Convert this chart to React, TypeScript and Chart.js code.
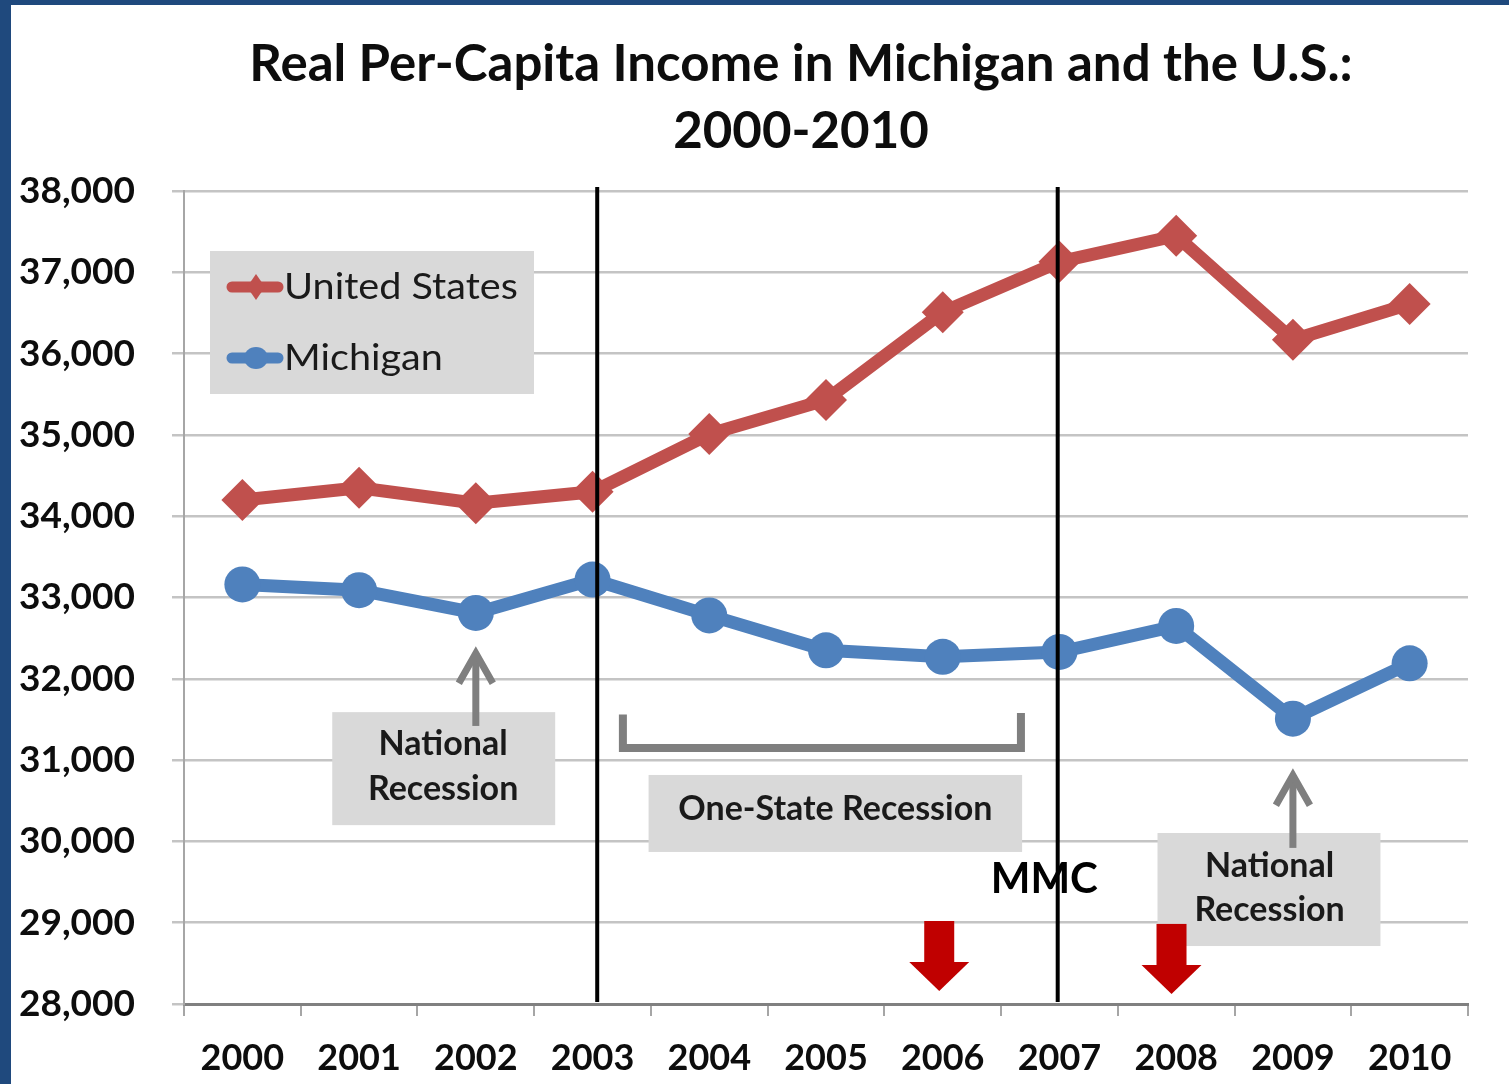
import React, { useEffect, useRef } from "react";
import { Chart, registerables } from "chart.js";

Chart.register(...registerables);

const years = ["2000", "2001", "2002", "2003", "2004", "2005", "2006", "2007", "2008", "2009", "2010"];
const unitedStates = [34200, 34350, 34160, 34300, 35010, 35430, 36510, 37130, 37450, 36170, 36610];
const michigan = [33160, 33090, 32810, 33220, 32780, 32350, 32270, 32330, 32650, 31510, 32190];
const yMin = 28000;
const yMax = 38000;
const yStep = 1000;
const titleLines = ["Real Per-Capita Income in Michigan and the U.S.:", "2000-2010"];
const seriesNames = ["United States", "Michigan"];

const US_COLOR = "#C0504D";
const MI_COLOR = "#4F81BD";
const FONT = "Lato, 'Open Sans', sans-serif";

const decorPlugin = {
  id: "decor",
  afterDatasetsDraw(chart: any) {
    const { ctx, chartArea, scales } = chart;
    const x = scales.x;
    const y = scales.y;
    const X = (v: number) => x.getPixelForValue(v);
    const Y = (v: number) => y.getPixelForValue(v);
    ctx.save();

    // vertical black lines
    ctx.strokeStyle = "#000";
    ctx.lineWidth = 4;
    [3.04, 6.985].forEach((v) => {
      ctx.beginPath();
      ctx.moveTo(X(v), Y(38050));
      ctx.lineTo(X(v), Y(28025));
      ctx.stroke();
    });

    const box = (x0: number, x1: number, y0: number, y1: number) => {
      ctx.fillStyle = "#D9D9D9";
      const l = X(x0), r = X(x1), t = Y(y0), b = Y(y1);
      ctx.fillRect(l, t, r - l, b - t);
    };
    const text = (s: string, xv: number, yv: number, font: string, color = "#1a1a1a") => {
      ctx.font = font;
      ctx.fillStyle = color;
      ctx.textAlign = "center";
      ctx.textBaseline = "middle";
      ctx.fillText(s, X(xv), Y(yv));
    };
    const upArrow = (xv: number, fromV: number, toV: number) => {
      const px = X(xv), yb = Y(fromV), yt = Y(toV);
      ctx.strokeStyle = "#7F7F7F";
      ctx.lineWidth = 7;
      ctx.lineCap = "butt";
      ctx.beginPath();
      ctx.moveTo(px, yb);
      ctx.lineTo(px, yt + 3);
      ctx.stroke();
      ctx.lineJoin = "miter";
      ctx.beginPath();
      ctx.moveTo(px - 17, yt + 33);
      ctx.lineTo(px, yt + 3);
      ctx.lineTo(px + 17, yt + 33);
      ctx.stroke();
    };
    const redArrow = (xv: number, topV: number) => {
      const px = X(xv), t = Y(topV);
      ctx.fillStyle = "#C00000";
      ctx.fillRect(px - 15, t, 30, 42);
      ctx.beginPath();
      ctx.moveTo(px - 30, t + 41);
      ctx.lineTo(px + 30, t + 41);
      ctx.lineTo(px, t + 70);
      ctx.closePath();
      ctx.fill();
    };
    const labelFont = `bold 34px ${FONT}`;

    // National recession 1
    box(0.77, 2.68, 31590, 30200);
    text("National", 1.72, 31200, labelFont);
    text("Recession", 1.72, 30650, labelFont);
    upArrow(2.0, 31420, 32350);

    // One-state recession bracket
    ctx.strokeStyle = "#7F7F7F";
    ctx.lineWidth = 8;
    ctx.lineJoin = "miter";
    ctx.lineCap = "butt";
    ctx.beginPath();
    ctx.moveTo(X(3.26), Y(31560));
    ctx.lineTo(X(3.26), Y(31150));
    ctx.lineTo(X(6.67), Y(31150));
    ctx.lineTo(X(6.67), Y(31580));
    ctx.stroke();

    box(3.48, 6.68, 30817, 29870);
    text("One-State Recession", 5.08, 30400, labelFont);

    // National recession 2
    box(7.84, 9.75, 30103, 28713);
    text("National", 8.8, 29700, labelFont);
    text("Recession", 8.8, 29150, labelFont);
    upArrow(9.0, 29920, 30850);

    // MMC
    text("MMC", 6.87, 29530, `bold 42px ${FONT}`, "#000");

    // red arrows
    redArrow(5.97, 29021);
    redArrow(7.96, 28985);

    // legend
    const lx = chartArea.left + 26;
    const ly = chartArea.top + 60;
    ctx.fillStyle = "#D9D9D9";
    ctx.fillRect(lx, ly, 324, 143);
    const items = [
      { name: seriesNames[0], color: US_COLOR, style: "diamond", dy: 36 },
      { name: seriesNames[1], color: MI_COLOR, style: "circle", dy: 107 },
    ];
    items.forEach((it) => {
      const cy = ly + it.dy;
      ctx.strokeStyle = it.color;
      ctx.lineWidth = 11;
      ctx.lineCap = "round";
      ctx.beginPath();
      ctx.moveTo(lx + 22, cy);
      ctx.lineTo(lx + 68, cy);
      ctx.stroke();
      ctx.fillStyle = it.color;
      const cx = lx + 46;
      ctx.beginPath();
      if (it.style === "diamond") {
        ctx.moveTo(cx, cy - 13);
        ctx.lineTo(cx + 9, cy);
        ctx.lineTo(cx, cy + 13);
        ctx.lineTo(cx - 9, cy);
        ctx.closePath();
      } else {
        ctx.ellipse(cx, cy, 12, 11, 0, 0, Math.PI * 2);
      }
      ctx.fill();
      ctx.font = `36px ${FONT}`;
      ctx.fillStyle = "#1a1a1a";
      ctx.textAlign = "left";
      ctx.textBaseline = "middle";
      ctx.save();
      ctx.translate(lx + 74, cy);
      ctx.scale(1.1, 1);
      ctx.fillText(it.name, 0, 0);
      ctx.restore();
    });
    ctx.restore();
  },
  afterDraw(chart: any) {
    const { ctx, chartArea } = chart;
    ctx.save();
    // title
    ctx.font = `bold 51px ${FONT}`;
    ctx.fillStyle = "#0d0d0d";
    ctx.textAlign = "center";
    ctx.textBaseline = "middle";
    const cx = (chartArea.left + chartArea.right) / 2 - 25;
    ctx.fillText(titleLines[0], cx, 65);
    ctx.fillText(titleLines[1], cx, 132);
    // frame
    ctx.fillStyle = "#1F497D";
    ctx.fillRect(0, 0, 11, chart.height);
    ctx.fillRect(0, 0, chart.width, 5);
    ctx.restore();
  },
};

export default function App() {
  const ref = useRef<HTMLCanvasElement | null>(null);
  useEffect(() => {
    document.body.style.margin = "0";
    const canvas = ref.current!;
    const chart = new Chart(canvas, {
      type: "line",
      data: {
        labels: years,
        datasets: [
          {
            label: seriesNames[0],
            data: unitedStates,
            borderColor: US_COLOR,
            backgroundColor: US_COLOR,
            borderWidth: 13,
            pointStyle: "rectRot",
            pointRadius: 21,
            pointBorderWidth: 0,
            pointBackgroundColor: US_COLOR,
            tension: 0,
          },
          {
            label: seriesNames[1],
            data: michigan,
            borderColor: MI_COLOR,
            backgroundColor: MI_COLOR,
            borderWidth: 13,
            pointStyle: "circle",
            pointRadius: 18,
            pointBorderWidth: 0,
            pointBackgroundColor: MI_COLOR,
            tension: 0,
          },
        ],
      },
      options: {
        responsive: false,
        animation: false,
        layout: { padding: { left: 0, right: 41, top: 191, bottom: 0 } },
        plugins: {
          legend: { display: false },
          title: { display: false },
          tooltip: { enabled: false },
        },
        scales: {
          x: {
            type: "category",
            offset: true,
            grid: {
              display: true,
              offset: true,
              drawOnChartArea: false,
              drawTicks: true,
              tickLength: 12,
              color: "#A6A6A6",
              lineWidth: 2,
            },
            border: { display: true, color: "#808080", width: 3 },
            ticks: {
              color: "#0d0d0d",
              font: { family: FONT, size: 36, weight: "bold" },
              padding: 21,
              maxRotation: 0,
              autoSkip: false,
            },
            afterFit: (s: any) => {
              s.height = 80;
            },
          },
          y: {
            min: yMin,
            max: yMax,
            ticks: {
              stepSize: yStep,
              color: "#0d0d0d",
              font: { family: FONT, size: 37, weight: "bold" },
              padding: 37,
              callback: (v: any) => Number(v).toLocaleString("en-US"),
            },
            grid: {
              color: "#C4C4C4",
              lineWidth: 2.5,
              tickLength: 12,
            },
            border: { display: true, color: "#A6A6A6", width: 2 },
            afterFit: (s: any) => {
              s.width = 184;
            },
          },
        },
      },
      plugins: [decorPlugin],
    });
    return () => chart.destroy();
  }, []);
  return (
    <div style={{ position: "absolute", left: 0, top: 0, width: 1509, height: 1084, background: "#fff" }}>
      <canvas ref={ref} width={1509} height={1084} style={{ display: "block", width: 1509, height: 1084 }} />
    </div>
  );
}
